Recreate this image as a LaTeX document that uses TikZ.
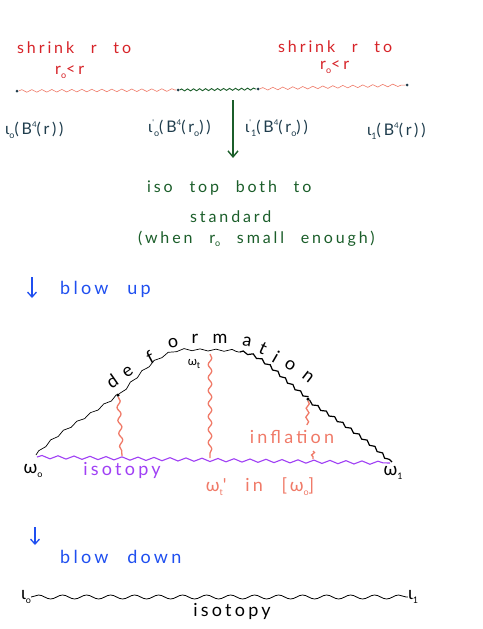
\documentclass[tikz,border=0pt]{standalone}
\usepackage{fontspec}
\setmainfont{Lato}
\newfontfamily\hand[LetterSpace=18,WordSpace=2.4]{Lato}
\usetikzlibrary{decorations.pathmorphing,arrows.meta}
\newcommand\lowsub[1]{\raisebox{-0.45ex}{\fontsize{9}{9}\selectfont #1}}
\newcommand\hisup[1]{\raisebox{0.9ex}{\fontsize{8}{8}\selectfont #1}}
\definecolor{redtxt}{HTML}{D72328}
\definecolor{salmon}{HTML}{F07A68}
\definecolor{dkgreen}{HTML}{1B5E2A}
\definecolor{tealtxt}{HTML}{1F3D4D}
\definecolor{bluetxt}{HTML}{1F4FF0}
\definecolor{purp}{HTML}{A040F5}
\begin{document}
\begin{tikzpicture}[x=1pt,y=-1pt,
  hw/.style={font=\hand\fontsize{16}{18}\selectfont, inner sep=0pt},
  hwbig/.style={font=\hand\fontsize{18}{20}\selectfont, inner sep=0pt},
  wavy/.style={decorate, decoration={snake, amplitude=1.3pt, segment length=10pt}},
  wavyv/.style={decorate, decoration={snake, amplitude=1.8pt, segment length=13pt}},
  dotn/.style={circle, fill=black, inner sep=0pt, minimum size=3.5pt},
  dotsmall/.style={circle, fill=tealtxt, inner sep=0pt, minimum size=3pt},
  letter/.style={font=\fontsize{18}{20}\selectfont, inner sep=0pt, text=black}]
\useasboundingbox (0,0) rectangle (482,629);
\fill[white] (0,0) rectangle (482,629);

% --- top: shrink ---
\node[hw, text=redtxt, anchor=west] (s1a) at (17,48) {shrink r to};
\node[hw, text=redtxt, anchor=west] (s1b) at (55,72) {r\lowsub{o}<r};
\node[hw, text=redtxt, anchor=west] (s2a) at (278,47) {shrink r to};
\node[hw, text=redtxt, anchor=west] (s2b) at (320,67) {r\lowsub{o}<r};

\node[dotsmall] (d1) at (17,91) {};
\node[dotsmall] (d2) at (178,90) {};
\node[dotsmall] (d3) at (258,89) {};
\node[dotsmall] (d4) at (407,85) {};
\draw[salmon, line width=0.6pt, wavy] (d1) -- (d2);
\draw[dkgreen, line width=0.9pt, decorate, decoration={snake, amplitude=1pt, segment length=6pt}] (d2) -- (d3);
\draw[salmon, line width=0.6pt, wavy] (d3) -- (d4);

\node[hw, text=tealtxt, anchor=west] (l1) at (5,130) {ι\lowsub{o}(B\hisup{4}(r))};
\node[hw, text=tealtxt, anchor=west] (l2) at (148,128) {ι\hisup{'}\lowsub{o}(B\hisup{4}(r\lowsub{o}))};
\node[hw, text=tealtxt, anchor=west] (l3) at (245,128) {ι\hisup{'}\lowsub{1}(B\hisup{4}(r\lowsub{o}))};
\node[hw, text=tealtxt, anchor=west] (l4) at (367,131) {ι\lowsub{1}(B\hisup{4}(r))};

\coordinate (a1) at (233,100);
\coordinate (a2) at (233,158);
\draw[dkgreen, line width=1.4pt, -{Straight Barb[length=6pt,width=10pt]}] (a1) -- (a2);

\node[hw, text=dkgreen, anchor=west] (g1) at (147,188) {iso top both to};
\node[hw, text=dkgreen, anchor=west] (g2) at (190,217) {standard};
\node[hw, text=dkgreen, anchor=west] (g3) at (138,239) {(when r\lowsub{o} small enough)};

% --- blow up ---
\coordinate (bu1) at (32,277);
\coordinate (bu2) at (32,298);
\draw[bluetxt, line width=1.3pt, -{Straight Barb[length=5pt,width=9pt]}] (bu1) -- (bu2);
\node[hwbig, text=bluetxt, anchor=west] (bu) at (60,289) {blow up};

% --- deformation picture ---
\coordinate (w0c) at (36,455);
\node[dotn] (p1) at (118,395) {};
\coordinate (tl) at (182,351);
\coordinate (tr) at (240,352);
\node[dotn] (p3) at (308,399) {};
\coordinate (w1c) at (392,462);

\draw[black, line width=0.7pt, decorate, decoration={snake, amplitude=1pt, segment length=16pt}]
  (w0c) .. controls (60,430) and (95,415) .. (p1)
        .. controls (140,372) and (158,352) .. (tl) -- (tr);
\draw[black, line width=1.2pt, decorate, decoration={snake, amplitude=1.3pt, segment length=10pt}]
  (tr) .. controls (262,354) and (285,385) .. (p3)
       .. controls (340,420) and (370,440) .. (w1c);

\coordinate (b0) at (37,457);
\coordinate (bend) at (390,463);
\draw[purp, line width=1.1pt, decorate, decoration={snake, amplitude=1.6pt, segment length=16pt}] (b0) -- (bend);

\coordinate (v1) at (122,456);
\coordinate (v2t) at (210,354);
\coordinate (v2) at (210,458);
\coordinate (v3) at (307,425);
\coordinate (v4a) at (313,451);
\coordinate (v4b) at (313,459);
\draw[salmon, line width=1.3pt, wavyv] (p1) -- (v1);
\draw[salmon, line width=1.3pt, wavyv] (v2t) -- (v2);
\draw[salmon, line width=1.3pt, decorate, decoration={snake, amplitude=1.5pt, segment length=9pt}] (p3) -- (v3);
\draw[salmon, line width=1.3pt, decorate, decoration={snake, amplitude=1.5pt, segment length=5pt}] (v4a) -- (v4b);

\node[letter, rotate=35] (c1) at (112,381) {d};
\node[letter, rotate=35] (c2) at (128,372) {e};
\node[letter, rotate=28] (c3) at (150,357) {f};
\node[letter, rotate=10] (c4) at (173,343) {o};
\node[letter, rotate=0] (c5) at (195,339) {r};
\node[letter, rotate=0] (c6) at (220,339) {m};
\node[letter, rotate=-10] (c7) at (247,342) {a};
\node[letter, rotate=-25] (c8) at (263,348) {t};
\node[letter, rotate=-30] (c9) at (276,357) {i};
\node[letter, rotate=-32] (c10) at (290,365) {o};
\node[letter, rotate=-38] (c11) at (308,377) {n};

\node[font=\fontsize{12}{14}\selectfont, inner sep=0pt] (wt) at (194,364) {ω\lowsub{t}};
\node[hwbig, text=black] (w0) at (33,471) {ω\lowsub{o}};
\node[hwbig, text=black] (w1) at (393,473) {ω\lowsub{1}};
\node[hwbig, text=purp] (iso1) at (122,470) {isotopy};
\node[hwbig, text=salmon] (infl) at (292,437) {inflation};
\node[hwbig, text=salmon] (wtp) at (260,487) {ω\lowsub{t}' in [ω\lowsub{o}]};

% --- blow down ---
\coordinate (bd1) at (35,527);
\coordinate (bd2) at (35,545);
\draw[bluetxt, line width=1.3pt, -{Straight Barb[length=5pt,width=9pt]}] (bd1) -- (bd2);
\node[hwbig, text=bluetxt, anchor=west] (bd) at (60,557) {blow down};

\node[hwbig, text=black] (i0) at (26,597) {ι\lowsub{o}};
\node[hwbig, text=black] (i1) at (413,597) {ι\lowsub{1}};
\draw[black, line width=0.8pt, decorate, decoration={snake, amplitude=2pt, segment length=24pt}] (i0) -- (i1);
\node[hwbig, text=black] (iso2) at (232,611) {isotopy};
\end{tikzpicture}
\end{document}
